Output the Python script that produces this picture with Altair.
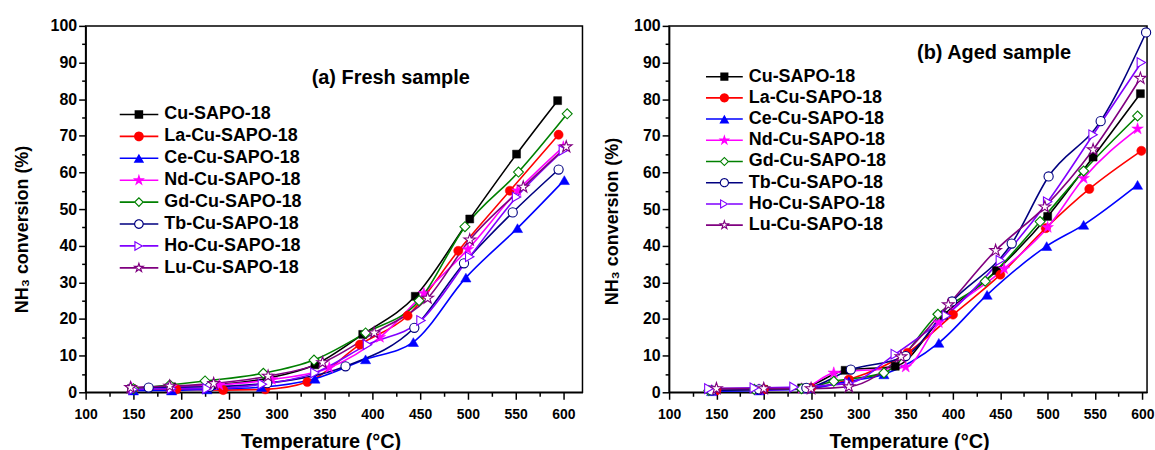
import math
import altair as alt
import pandas as pd

FONT = "Liberation Sans"

SERIES = ["Cu-SAPO-18", "La-Cu-SAPO-18", "Ce-Cu-SAPO-18", "Nd-Cu-SAPO-18",
          "Gd-Cu-SAPO-18", "Tb-Cu-SAPO-18", "Ho-Cu-SAPO-18", "Lu-Cu-SAPO-18"]
COLORS = ["#000000", "#FF0000", "#0000FF", "#FF00FF",
          "#008000", "#000080", "#8000FF", "#800080"]
MARKERS = ["square", "circle", "triangle-up", "star",
           "diamond", "circle", "triangle-right", "star"]
HOLLOW = [False, False, False, False, True, True, True, True]

PANEL_TITLES = ["(a) Fresh sample", "(b) Aged sample"]
X_TITLE = "Temperature (°C)"
Y_TITLE = "NH₃ conversion (%)"

# ---------------- (a) Fresh sample ----------------
FRESH_CU_T = [148, 190, 233, 290, 340, 390, 445, 502, 551, 594]
FRESH_CU_Y = [1.0, 1.5, 2.0, 3.8, 7.5, 15.8, 26.2, 47.3, 65.0, 79.6]
FRESH_LA_T = [150, 195, 244, 288, 332, 387, 437, 490, 544, 595]
FRESH_LA_Y = [0.8, 0.8, 0.6, 0.8, 2.8, 13.0, 20.9, 38.6, 55.0, 70.3]
FRESH_CE_T = [150, 190, 227, 284, 340, 393, 443, 498, 552, 601]
FRESH_CE_Y = [0.5, 0.5, 0.8, 1.4, 3.7, 9.0, 13.7, 31.3, 44.8, 57.9]
FRESH_ND_T = [148, 190, 240, 295, 355, 408, 454, 500, 552, 600]
FRESH_ND_Y = [1.2, 1.5, 2.0, 3.5, 6.7, 15.0, 27.0, 39.0, 55.0, 67.0]
FRESH_GD_T = [150, 188, 225, 286, 339, 393, 449, 497, 553, 604]
FRESH_GD_Y = [1.0, 2.0, 3.1, 5.2, 8.8, 16.2, 25.0, 45.2, 60.1, 76.0]
FRESH_TB_T = [166, 230, 290, 372, 444, 496, 547, 595]
FRESH_TB_Y = [1.3, 1.5, 2.5, 7.1, 17.6, 35.2, 49.1, 60.8]
FRESH_HO_T = [150, 190, 227, 285, 340, 395, 451, 502, 551, 600]
FRESH_HO_Y = [0.8, 1.0, 1.0, 2.2, 5.3, 13.0, 19.6, 37.0, 53.3, 66.0]
FRESH_LU_T = [147, 188, 234, 291, 348, 402, 458, 502, 558, 603]
FRESH_LU_Y = [1.3, 1.7, 2.4, 4.4, 8.1, 16.2, 25.7, 41.6, 56.0, 67.0]

# ---------------- (b) Aged sample ----------------
AGED_CU_T = [145, 200, 240, 286, 339, 390, 446, 500, 548, 598]
AGED_CU_Y = [0.5, 0.8, 1.2, 6.0, 7.1, 21.0, 33.2, 48.0, 64.2, 81.5]
AGED_LA_T = [150, 200, 250, 290, 352, 400, 450, 498, 544, 599]
AGED_LA_Y = [0.5, 0.8, 1.2, 3.5, 10.8, 21.2, 32.1, 44.8, 55.5, 65.9]
AGED_CE_T = [145, 195, 245, 290, 327, 385, 436, 499, 538, 595]
AGED_CE_Y = [0.3, 0.5, 1.0, 3.0, 4.9, 13.5, 26.6, 39.9, 45.7, 56.6]
AGED_ND_T = [145, 195, 240, 274, 350, 385, 454, 500, 538, 595]
AGED_ND_Y = [0.5, 0.7, 1.0, 5.3, 6.9, 19.0, 33.7, 45.0, 58.4, 71.9]
AGED_GD_T = [142, 190, 240, 274, 327, 384, 434, 492, 538, 595]
AGED_GD_Y = [0.5, 0.8, 1.0, 3.0, 5.3, 21.3, 30.3, 46.6, 60.4, 75.4]
AGED_TB_T = [145, 195, 245, 292, 350, 399, 462, 501, 556, 604]
AGED_TB_Y = [0.5, 0.8, 1.2, 6.2, 9.9, 24.8, 40.6, 58.9, 74.0, 98.2]
AGED_HO_T = [142, 190, 232, 290, 339, 393, 450, 500, 548, 599]
AGED_HO_Y = [1.0, 1.2, 1.4, 2.5, 10.4, 20.9, 36.0, 52.0, 70.3, 90.0]
AGED_LU_T = [150, 200, 250, 290, 345, 395, 445, 497, 548, 598]
AGED_LU_Y = [1.0, 1.0, 1.0, 1.5, 9.7, 23.9, 38.7, 50.6, 66.2, 85.7]

FRESH = [(FRESH_CU_T, FRESH_CU_Y), (FRESH_LA_T, FRESH_LA_Y), (FRESH_CE_T, FRESH_CE_Y),
         (FRESH_ND_T, FRESH_ND_Y), (FRESH_GD_T, FRESH_GD_Y), (FRESH_TB_T, FRESH_TB_Y),
         (FRESH_HO_T, FRESH_HO_Y), (FRESH_LU_T, FRESH_LU_Y)]
AGED = [(AGED_CU_T, AGED_CU_Y), (AGED_LA_T, AGED_LA_Y), (AGED_CE_T, AGED_CE_Y),
        (AGED_ND_T, AGED_ND_Y), (AGED_GD_T, AGED_GD_Y), (AGED_TB_T, AGED_TB_Y),
        (AGED_HO_T, AGED_HO_Y), (AGED_LU_T, AGED_LU_Y)]


# ---------------- symbol geometry (unit square -1..1) ----------------
def f4(v):
    s = f"{v:.4f}".rstrip("0").rstrip(".")
    return "0" if s in ("-0", "") else s


def poly(pts):
    return "M" + " L".join(f"{f4(x)},{f4(y)}" for x, y in pts) + " Z"


def star_pts(R):
    r = R * 0.382
    out = []
    for i in range(10):
        a = -math.pi / 2 + i * math.pi / 5
        rad = R if i % 2 == 0 else r
        out.append((rad * math.cos(a), rad * math.sin(a)))
    return out


def circle_pts(R, n=28):
    return [(R * math.cos(2 * math.pi * i / n), R * math.sin(2 * math.pi * i / n)) for i in range(n)]


STAR_PATH = poly(star_pts(1.0))


def shape_outline(name, k):
    """returns (points, centre, inradius, half-width along x)"""
    if name == "square":
        return [(-k, -k), (k, -k), (k, k), (-k, k)], (0, 0), k, k
    if name == "diamond":
        return [(0, -k), (k, 0), (0, k), (-k, 0)], (0, 0), k * 0.707, k
    if name == "triangle-up":
        h = 0.866 * k
        return [(0, -h), (k, h), (-k, h)], (0, h / 3), 0.577 * k, k
    if name == "triangle-right":
        h = 0.866 * k
        return [(h, 0), (-h, k), (-h, -k)], (-h / 3, 0), 0.577 * k, h
    if name == "star":
        return star_pts(k), (0, 0), 0.309 * k, 0.5255 * k
    return circle_pts(k), (0, 0), k, k


def legend_path(name, hollow):
    lw = 0.042   # half line thickness
    t = 0.06     # ring thickness
    k = {"square": 0.22, "circle": 0.25, "triangle-up": 0.27, "star": 0.33,
         "diamond": 0.26, "triangle-right": 0.27}[name]
    pts, (cx, cy), inr, edge = shape_outline(name, k)
    if not hollow:
        line = poly([(-1, -lw), (1, -lw), (1, lw), (-1, lw)])
        return line + " " + poly(pts)
    g = edge - t * 0.5
    line = poly([(-1, -lw), (-g, -lw), (-g, lw), (-1, lw)]) + " " + \
        poly([(g, -lw), (1, -lw), (1, lw), (g, lw)])
    f = max(0.2, 1 - t / inr)
    inner = [(cx + (x - cx) * f, cy + (y - cy) * f) for x, y in pts][::-1]
    return line + " " + poly(pts) + " " + poly(inner)


LEGEND_PATHS = [legend_path(m, h) for m, h in zip(MARKERS, HOLLOW)]
MARK_SHAPE = {"square": "square", "circle": "circle", "triangle-up": "triangle-up",
              "star": STAR_PATH, "diamond": "diamond", "triangle-right": "triangle-right"}
MARK_SIZE = {"square": 64, "circle": 85, "triangle-up": 105, "star": 150,
             "diamond": 100, "triangle-right": 95}


def make_panel(data, xmax, width, height, title_text, title_xy, leg_xy, row_pad,
               sym_size, x_title_x, y_title_y, y_title_pad):
    xt = list(range(100, int(xmax) + 1, 25))
    x_enc = alt.X("T:Q", scale=alt.Scale(domain=[100, xmax], nice=False, zero=False),
                  axis=alt.Axis(title=X_TITLE, values=xt, labelFlush=False,
                                labelExpr="datum.value % 50 == 0 ? datum.label : ''",
                                tickSize={"condition": {"test": "datum.value % 50 == 0", "value": 7},
                                          "value": 4},
                                labelFontSize=14, labelPadding=8,
                                titleFontSize=20, titlePadding=10, titleX=x_title_x))
    y_enc = alt.Y("C:Q", scale=alt.Scale(domain=[0, 100], nice=False),
                  axis=alt.Axis(title=Y_TITLE, values=list(range(0, 101, 5)),
                                labelExpr="datum.value % 10 == 0 ? datum.label : ''",
                                tickSize={"condition": {"test": "datum.value % 10 == 0", "value": 7},
                                          "value": 4},
                                labelFontSize=16, labelPadding=2,
                                titleFontSize=18, titlePadding=y_title_pad, titleY=y_title_y))

    legend = alt.Legend(orient="none", legendX=leg_xy[0], legendY=leg_xy[1], title=None,
                        symbolSize=sym_size, symbolStrokeWidth=0, clipHeight=18,
                        rowPadding=row_pad, labelFont=FONT, labelFontSize=18,
                        labelFontWeight="bold", labelColor="black", labelOffset=6,
                        padding=0, labelLimit=400, symbolOffset=0)

    legend_df = pd.DataFrame({"series": SERIES, "T": [100] * 8, "C": [0] * 8})
    legend_layer = alt.Chart(legend_df).transform_filter("false").mark_point(
        filled=True, opacity=1).encode(
        x=x_enc, y=y_enc,
        color=alt.Color("series:N", scale=alt.Scale(domain=SERIES, range=COLORS), legend=legend),
        shape=alt.Shape("series:N", scale=alt.Scale(domain=SERIES, range=LEGEND_PATHS), legend=legend),
    )

    layers = [legend_layer]
    for (T, Y), name, col in zip(data, SERIES, COLORS):
        df = pd.DataFrame({"T": T, "C": Y})
        layers.append(alt.Chart(df).mark_line(interpolate="monotone", color=col,
                                              strokeWidth=1.6).encode(x=x_enc, y=y_enc))
    for (T, Y), name, col, mk, hol in zip(data, SERIES, COLORS, MARKERS, HOLLOW):
        df = pd.DataFrame({"T": T, "C": Y})
        if hol:
            mark = alt.Chart(df).mark_point(shape=MARK_SHAPE[mk], size=MARK_SIZE[mk], filled=False,
                                            fill="white", stroke=col, strokeWidth=1.1, opacity=1)
        else:
            mark = alt.Chart(df).mark_point(shape=MARK_SHAPE[mk], size=MARK_SIZE[mk], filled=True,
                                            fill=col, stroke=col, strokeWidth=0.5, opacity=1)
        layers.append(mark.encode(x=x_enc, y=y_enc))

    title_layer = alt.Chart(pd.DataFrame({"label": [title_text]})).mark_text(
        align="left", baseline="middle", font=FONT, fontSize=20, fontWeight="bold",
        color="black").encode(text="label:N", x=alt.value(title_xy[0]), y=alt.value(title_xy[1]))
    layers.append(title_layer)

    return alt.layer(*layers).properties(width=width, height=height)


left = make_panel(FRESH, 620, 499, 368, PANEL_TITLES[0], (227, 52), (34, 80), 4,
                  1521, 236, 204, 19)
right = make_panel(AGED, 605, 480, 368, PANEL_TITLES[1], (249, 27), (37, 42), 3.3,
                   1369, 241, 196, 12)

chart = alt.hconcat(left, right, spacing=19).resolve_scale(
    color="independent", shape="independent", x="independent", y="independent"
).properties(
    padding={"left": 12, "top": 16, "right": 0, "bottom": 5},
    background="white"
).configure_view(
    stroke="black", strokeWidth=1.5
).configure_axis(
    domainColor="black", domainWidth=1.5, tickColor="black", tickWidth=1.5,
    labelFont=FONT, labelFontWeight="bold", labelColor="black",
    titleFont=FONT, titleFontWeight="bold", titleColor="black", grid=False
)

chart.save("out.html", embed_options={"renderer": "svg", "actions": False})
